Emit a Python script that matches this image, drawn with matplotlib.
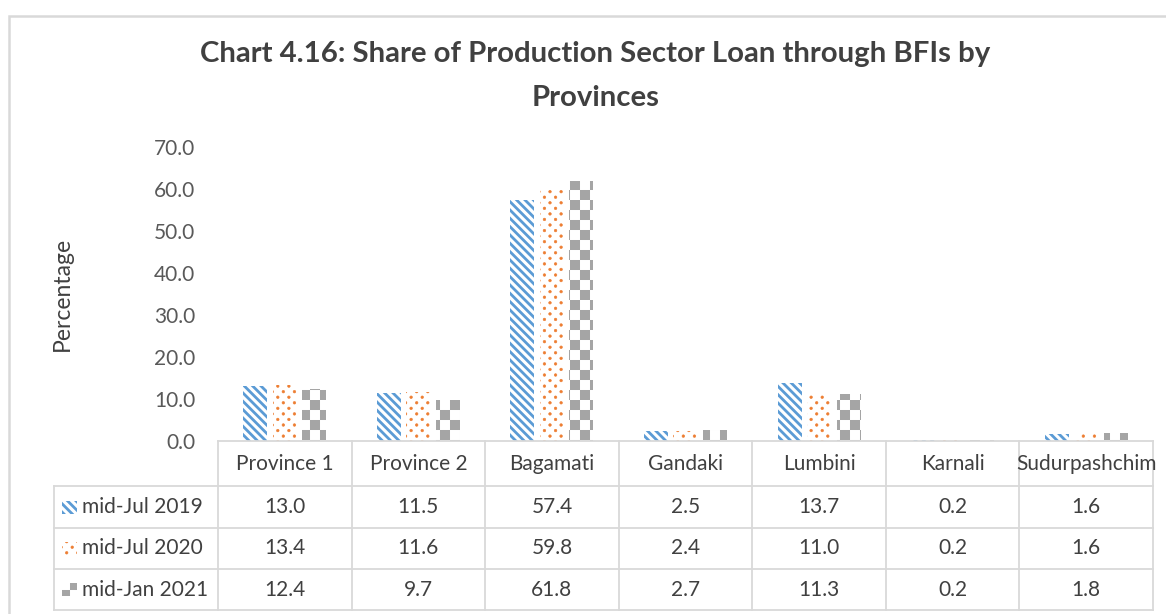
import numpy as np
import matplotlib
matplotlib.use("Agg")
import matplotlib.pyplot as plt
from matplotlib import hatch as mhatch
from matplotlib.path import Path
from matplotlib.patches import Rectangle
from matplotlib.lines import Line2D

# ---------------- data ----------------
provinces = ["Province 1", "Province 2", "Bagamati", "Gandaki", "Lumbini", "Karnali", "Sudurpashchim"]
series_names = ["mid-Jul 2019", "mid-Jul 2020", "mid-Jan 2021"]
jul2019 = [13.0, 11.5, 57.4, 2.5, 13.7, 0.2, 1.6]
jul2020 = [13.4, 11.6, 59.8, 2.4, 11.0, 0.2, 1.6]
jan2021 = [12.4, 9.7, 61.8, 2.7, 11.3, 0.2, 1.8]
yticks = [0, 10, 20, 30, 40, 50, 60, 70]
title_lines = ["Chart 4.16: Share of Production Sector Loan through BFIs by", "Provinces"]
ylabel = "Percentage"

# ---------------- custom hatch patterns ----------------
class Stripes(mhatch.HatchPatternBase):
    def __init__(self, hatch, density):
        n = hatch.count("\\")
        self.M = 12 if n else 0
        self.ks = np.arange(-1, 2 * self.M + 2) if n else np.array([])
        self.num_vertices = len(self.ks) * 2

    def set_vertices_and_codes(self, vertices, codes):
        c = self.ks / self.M
        vertices[0::2, 0] = c - 1
        vertices[0::2, 1] = 1
        vertices[1::2, 0] = c
        vertices[1::2, 1] = 0
        codes[0::2] = Path.MOVETO
        codes[1::2] = Path.LINETO


class Dots(mhatch.HatchPatternBase):
    def __init__(self, hatch, density):
        n = hatch.count(".")
        self.centers = []
        if n:
            K = 9
            for j in range(2 * K):
                y = (j + 0.5) / (2 * K)
                if j % 2 == 0:
                    xs = [i / K for i in range(K + 1)]
                else:
                    xs = [(i + 0.5) / K for i in range(K)]
                for x in xs:
                    self.centers.append((x, y))
        circ = Path.unit_circle()
        self.sv = circ.vertices * 0.013
        self.sc = circ.codes
        self.num_vertices = len(self.centers) * len(self.sv)

    def set_vertices_and_codes(self, vertices, codes):
        n = len(self.sv)
        for i, (x, y) in enumerate(self.centers):
            vertices[i * n:(i + 1) * n] = self.sv + (x, y)
            codes[i * n:(i + 1) * n] = self.sc


class Checker(mhatch.HatchPatternBase):
    def __init__(self, hatch, density):
        n = hatch.count("+")
        self.sq = []
        if n:
            K = 10
            for i in range(K):
                for j in range(K):
                    if (i + j) % 2 == 0:
                        self.sq.append((i / K, j / K, 1 / K))
        self.num_vertices = len(self.sq) * 5

    def set_vertices_and_codes(self, vertices, codes):
        for k, (x, y, s) in enumerate(self.sq):
            vertices[k * 5:(k + 1) * 5] = [(x, y), (x + s, y), (x + s, y + s), (x, y + s), (x, y)]
            codes[k * 5:(k + 1) * 5] = [Path.MOVETO, Path.LINETO, Path.LINETO, Path.LINETO, Path.CLOSEPOLY]


mhatch._hatch_types[:] = [Stripes, Dots, Checker]

# ---------------- figure ----------------
W, H = 1166, 614
plt.rcParams["font.family"] = ["Lato", "DejaVu Sans"]
fig = plt.figure(figsize=(W / 100, H / 100), dpi=100)
fig.patch.set_facecolor("white")

def fx(x):
    return x / W

def fy(y):
    return 1 - y / H

ax_left, ax_right, ax_top, ax_bot = 218, 1153, 147, 441
ax = fig.add_axes([fx(ax_left), fy(ax_bot), (ax_right - ax_left) / W, (ax_bot - ax_top) / H])
ax.set_xlim(-0.5, len(provinces) - 0.5)
ax.set_ylim(0, 70)
for s in ax.spines.values():
    s.set_visible(False)
ax.set_xticks([])
ax.set_yticks(yticks)
ax.set_yticklabels([f"{v:.1f}" for v in yticks])
ax.tick_params(axis="y", length=0, pad=16.5, labelsize=15, labelcolor="#595959")
ax.patch.set_alpha(0)

series = [jul2019, jul2020, jan2021]
colors = ["#5B9BD5", "#ED7D31", "#A5A5A5"]
hatches = ["\\", ".", "+"]
hlw = [2.0, 0.4, 0.01]
width = 0.18
step = 0.221
x = np.arange(len(provinces))

def style_patch(p, lw):
    try:
        p.set_hatch_linewidth(lw)
    except Exception:
        pass

for k, (vals, c, h, lw) in enumerate(zip(series, colors, hatches, hlw)):
    with plt.rc_context({"hatch.linewidth": lw}):
        bars = ax.bar(x + (k - 1) * step, vals, width=width, facecolor="white",
                      edgecolor=c, linewidth=0, hatch=h)
    for b in bars:
        style_patch(b, lw)

# y label
fig.text(fx(62), fy(294), ylabel, rotation=90, ha="center", va="center",
         fontsize=16.5, color="#404040")

# title (two lines)
fig.text(fx(595), fy(62), title_lines[0], ha="center", va="baseline", fontsize=21.2,
         fontweight="bold", color="#404040")
fig.text(fx(596), fy(106), title_lines[1], ha="center", va="baseline", fontsize=21.2,
         fontweight="bold", color="#404040")

# ---------------- data table ----------------
grid_c = "#D9D9D9"
gl = 1.3
fig.canvas.draw()
bounds_px = [ax.transData.transform((b, 0))[0] for b in np.arange(len(provinces) + 1) - 0.5]
rows_y = [441, 486, 528, 569, 610]
leg_left = 54

def hline(x0, x1, y):
    fig.add_artist(Line2D([fx(x0), fx(x1)], [fy(y), fy(y)], color=grid_c, lw=gl))

def vline(xx, y0, y1):
    fig.add_artist(Line2D([fx(xx), fx(xx)], [fy(y0), fy(y1)], color=grid_c, lw=gl))

hline(bounds_px[0], bounds_px[-1], rows_y[0])
for yy in rows_y[1:]:
    hline(leg_left, bounds_px[-1], yy)
vline(leg_left, rows_y[1], rows_y[-1])
for bx in bounds_px:
    vline(bx, rows_y[0], rows_y[-1])

tc = "#404040"
fs = 15
for i, name in enumerate(provinces):
    cx = (bounds_px[i] + bounds_px[i + 1]) / 2
    fig.text(fx(cx), fy((rows_y[0] + rows_y[1]) / 2), name, ha="center", va="center",
             fontsize=fs, color=tc)
    for r, vals in enumerate(series):
        fig.text(fx(cx), fy((rows_y[r + 1] + rows_y[r + 2]) / 2), f"{vals[i]:.1f}",
                 ha="center", va="center", fontsize=fs, color=tc)

for r, (name, c, h, lw) in enumerate(zip(series_names, colors, hatches, hlw)):
    cy = (rows_y[r + 1] + rows_y[r + 2]) / 2
    with plt.rc_context({"hatch.linewidth": lw}):
        sw = Rectangle((fx(62), fy(cy + 6.5)), 15 / W, 13 / H, transform=fig.transFigure,
                       facecolor="white", edgecolor=c, linewidth=0, hatch=h)
    style_patch(sw, lw)
    fig.add_artist(sw)
    fig.text(fx(82), fy(cy), name, ha="left", va="center", fontsize=fs, color=tc)

# outer chart frame (extends beyond right / bottom edge)
fig.add_artist(Rectangle((fx(9), fy(640)), (1200 - 9) / W, (640 - 16) / H,
                         transform=fig.transFigure, fill=False, edgecolor=grid_c,
                         linewidth=1.8, clip_on=False))

fig.savefig("out.png", dpi=100, facecolor="white")
